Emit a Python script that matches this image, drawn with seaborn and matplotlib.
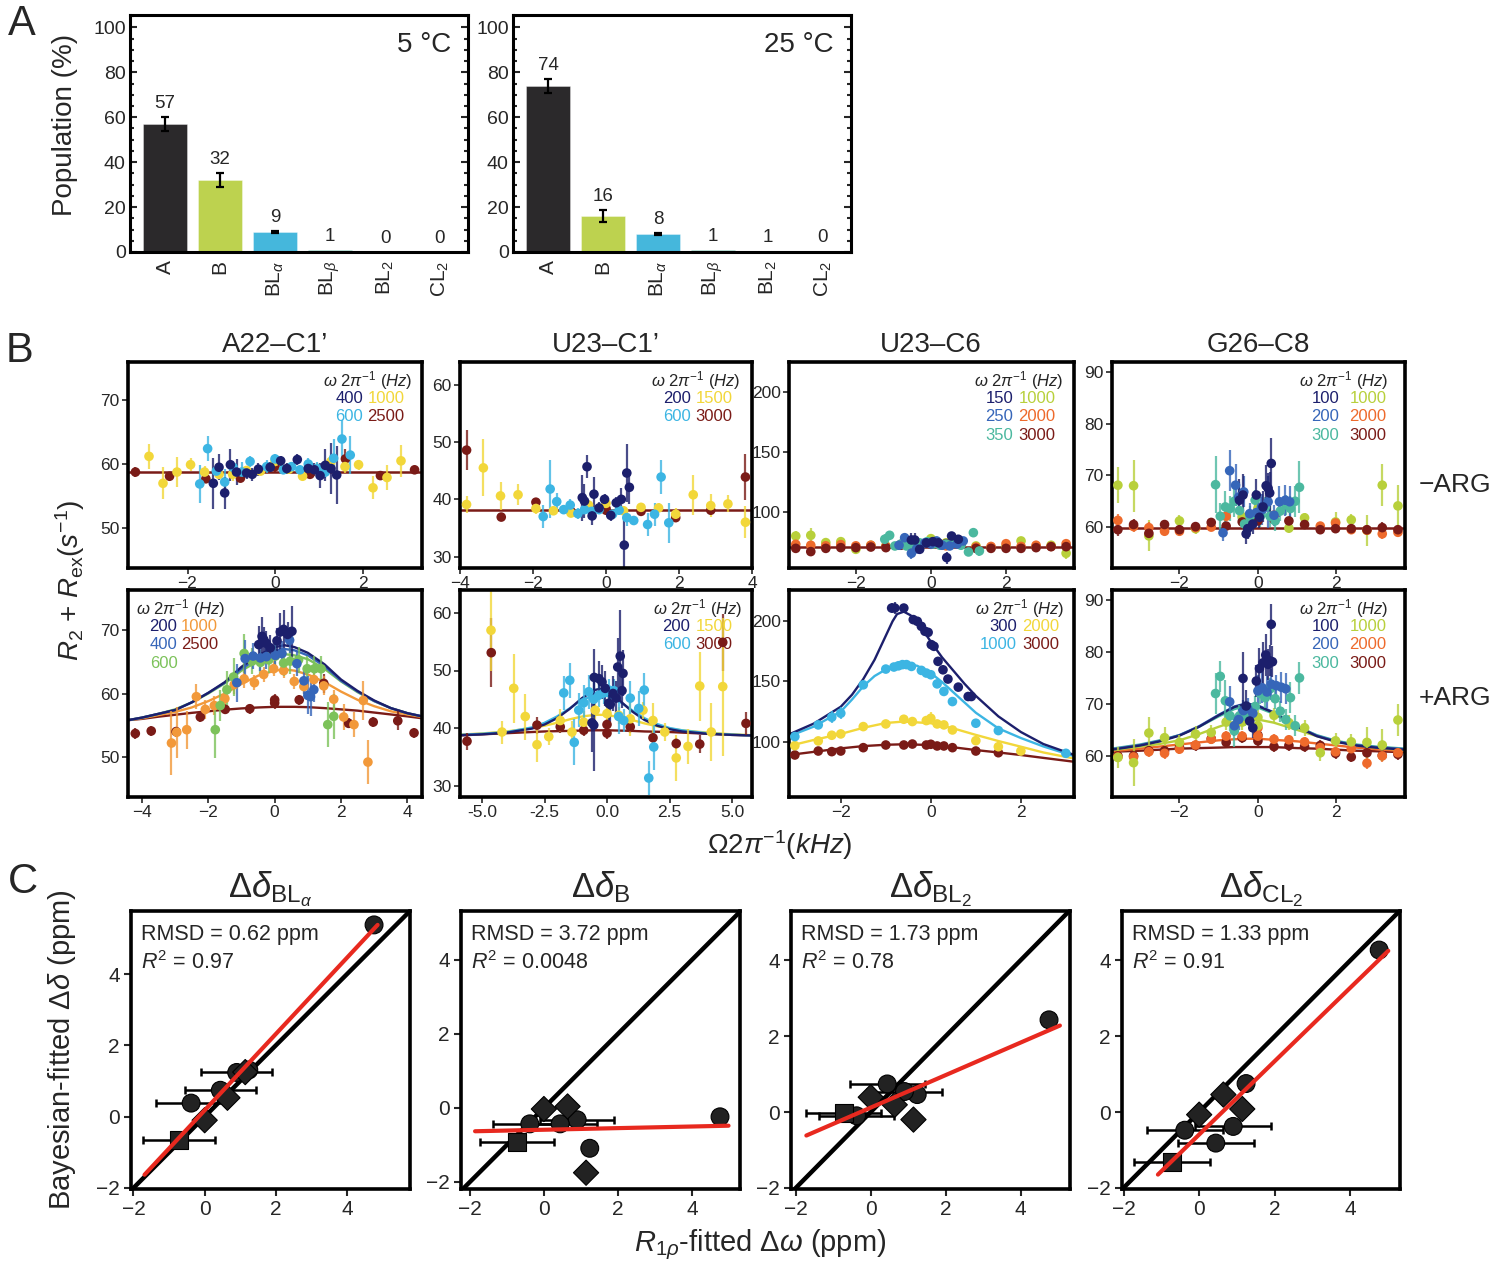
import numpy as np
import pandas as pd
import matplotlib
matplotlib.use('Agg')
import matplotlib.pyplot as plt
import seaborn as sns
from matplotlib.ticker import MultipleLocator, FixedLocator, FormatStrFormatter

# ---------------- DATA ----------------
# Panel A
POP_STATES = ['A', 'B', 'BLa', 'BLb', 'BL2', 'CL2']
POP_TICKLABELS = ['A', 'B', r'BL$_{\alpha}$', r'BL$_{\beta}$', r'BL$_{2}$', r'CL$_{2}$']
POP_5C = [57, 32, 9, 1, 0.2, 0.1]
POP_5C_ERR = [3.0, 3.0, 0.5, 0, 0, 0]
POP_25C = [74, 16, 8, 1, 0.6, 0.4]
POP_25C_ERR = [3.0, 2.5, 0.5, 0, 0, 0]

# Panel B (x kHz, y s^-1, err) ---- A22-C1' -ARG
A22M_2500 = [(-3.19, 58.75, 0.8), (-2.41, 58.1, 0.6), (-1.58, 57.7, 0.6), (-0.79, 57.8, 0.5), (0, 59.6, 0.8),
             (0.8, 58.4, 0.5), (1.61, 60.8, 1.5), (2.41, 58.2, 0.6), (3.19, 59.1, 0.5)]
A22M_1000 = [(-2.88, 61.2, 2), (-2.56, 57.0, 2.5), (-2.24, 58.75, 2.3), (-1.93, 59.9, 1), (-1.61, 58.75, 1),
             (-1.28, 58.4, 0.5), (-0.97, 58.4, 1), (-0.65, 59.0, 0.5), (-0.33, 58.9, 0.5), (0, 60.4, 0.8),
             (0.32, 59.2, 0.5), (0.63, 58.1, 0.5), (0.96, 59.1, 1), (1.28, 60.4, 1), (1.6, 59.6, 1),
             (1.91, 59.9, 0.8), (2.24, 56.3, 1.8), (2.56, 57.9, 2), (2.88, 60.5, 2.5)]
A22M_600 = [(-1.72, 56.9, 3), (-1.54, 62.4, 2), (-1.34, 58.9, 0.8), (-1.15, 57.2, 2), (-0.96, 59.5, 1),
            (-0.76, 58.75, 1.5), (-0.57, 60.4, 0.8), (-0.19, 59.6, 1), (0, 60.8, 0.8), (0.19, 59.1, 0.6),
            (0.38, 59.6, 0.6), (0.57, 59.1, 0.6), (0.76, 60.0, 1), (0.96, 59.3, 1), (1.15, 58.75, 1),
            (1.34, 60.9, 3), (1.53, 63.9, 3), (1.72, 61.4, 3)]
A22M_400 = [(-1.41, 57.0, 4), (-1.28, 59.5, 2), (-1.15, 55.5, 2.5), (-1.02, 59.9, 2.5), (-0.88, 58.75, 2),
            (-0.65, 58.6, 1), (-0.52, 58.4, 1), (-0.38, 59.2, 1), (-0.11, 59.5, 0.8), (0.13, 60.5, 0.8),
            (0.27, 59.3, 0.8), (0.51, 60.7, 0.8), (0.76, 59.3, 1), (0.9, 59.1, 1), (1.03, 58.2, 2),
            (1.15, 59.8, 2.5), (1.28, 59.3, 4), (1.41, 58.3, 4.5)]
A22M_FIT = 58.8

# U23-C1' -ARG
U23C1M_3000 = [(-3.82, 48.6, 3.5), (-2.87, 36.9, 0.6), (-1.92, 39.5, 0.8), (-0.96, 37.9, 0.6), (0, 38.1, 0.8),
               (0, 38.4, 0.6), (0.96, 37.9, 0.6), (1.91, 36.8, 0.6), (2.87, 38.1, 0.6), (3.82, 43.9, 4)]
U23C1M_1500 = [(-3.82, 39.1, 1.5), (-3.36, 45.5, 5), (-2.89, 40.6, 2.5), (-2.41, 40.8, 1.8), (-1.92, 38.4, 1),
               (-1.44, 38.0, 0.6), (-0.96, 37.6, 0.6), (-0.48, 39.0, 0.6), (0, 39.3, 0.6), (0.48, 38.0, 0.6),
               (0.96, 38.6, 0.8), (1.44, 38.5, 0.8), (1.91, 37.4, 1), (2.39, 40.8, 3.5), (2.87, 38.9, 2),
               (3.34, 39.2, 1.5), (3.82, 36.0, 2.8)]
U23C1M_600 = [(-1.72, 37.0, 2), (-1.53, 41.8, 5), (-1.35, 39.6, 1.5), (-1.16, 38.2, 0.8), (-0.98, 39.0, 1),
              (-0.77, 37.5, 1), (-0.59, 38.2, 0.8), (-0.39, 37.9, 0.8), (-0.19, 38.2, 0.8), (0.18, 37.4, 0.8),
              (0.36, 38.1, 0.8), (0.57, 36.8, 1.5), (0.76, 36.3, 0.8), (1.14, 35.6, 2), (1.33, 37.4, 2),
              (1.51, 43.9, 3), (1.72, 35.9, 3.5)]
U23C1M_200 = [(-0.65, 40.3, 4), (-0.59, 39.7, 3), (-0.52, 45.7, 2), (-0.38, 37.1, 1.5), (-0.33, 40.9, 3),
              (-0.19, 38.5, 1), (-0.04, 40.0, 1), (0.13, 37.2, 1), (0.28, 39.4, 1), (0.42, 40.0, 2),
              (0.5, 32.0, 5), (0.57, 44.6, 5), (0.64, 42.1, 3)]
U23C1M_FIT = 38.2

# U23-C6 -ARG
U23C6M_3000 = [(-3.6, 69.4, 1.5), (-3.2, 66.7, 1.5), (-2.8, 69.4, 1.5), (-2.4, 70, 1.5), (-2.0, 70, 1.5),
               (-1.6, 70.5, 1.5), (-1.2, 70, 1.5), (-0.8, 72, 1.5), (-0.4, 72.8, 1.5), (0, 72.8, 1.5),
               (0.4, 73.3, 1.5), (0.8, 72.8, 1.5), (1.2, 69.4, 1.5), (1.6, 69.4, 1.5), (2.0, 69.4, 1.5),
               (2.4, 69.4, 1.5), (2.8, 70, 1.5), (3.2, 70.8, 1.5), (3.6, 70.8, 1.5)]
U23C6M_2000 = [(-3.6, 72.8, 2), (-3.2, 72, 2), (-2.8, 71.5, 2), (-2.4, 72.5, 2), (-2.0, 71.5, 2), (-1.6, 72, 2),
               (-1.2, 71, 2), (-0.8, 72.8, 2), (-0.4, 72, 2), (0, 73, 2), (0.4, 71.5, 2), (0.8, 72.5, 2),
               (1.2, 70.5, 2), (1.6, 71, 2), (2.0, 73.3, 2), (2.4, 71, 2), (2.8, 72, 2), (3.2, 71, 2), (3.6, 73.3, 2)]
U23C6M_1000 = [(-3.6, 79.7, 4), (-3.2, 80.3, 6), (-2.8, 74.2, 2), (-2.4, 75, 2), (-2.0, 68.6, 2), (-1.6, 72, 2),
               (-1.2, 71.5, 2), (-0.8, 72.5, 2), (-0.4, 73, 2), (0, 77.5, 3), (0.4, 74, 2), (0.8, 73, 2),
               (1.2, 71.4, 2), (1.6, 70, 2), (2.0, 71, 2), (2.4, 75.6, 2), (2.8, 71, 2), (3.2, 72, 2), (3.6, 65.3, 5)]
U23C6M_350 = [(-1.23, 77, 4), (-1.1, 80.3, 3), (-0.96, 71.4, 2), (-0.8, 73, 2), (-0.65, 71.4, 2), (-0.5, 73, 2),
              (-0.3, 74, 2), (-0.1, 75, 2), (0.05, 73, 2), (0.24, 72, 2), (0.4, 73, 2), (0.6, 74, 2),
              (0.8, 72, 2), (1.0, 66.4, 3), (1.13, 82.5, 3), (1.29, 67.2, 4)]
U23C6M_250 = [(-0.85, 72, 2), (-0.7, 78.3, 3), (-0.52, 65.3, 5), (-0.38, 69, 3), (-0.16, 74, 2), (0, 73, 2),
              (0.15, 75.6, 2), (0.3, 72, 2), (0.5, 71.4, 2), (0.7, 73, 2), (0.86, 75.6, 2)]
U23C6M_150 = [(-0.52, 76.4, 6), (-0.43, 76.4, 6), (-0.3, 68.6, 3), (-0.12, 74, 2), (0.05, 75, 2), (0.2, 74, 2),
              (0.42, 61.7, 5), (0.55, 79.7, 3), (0.73, 77, 3)]
U23C6M_FIT = 70.5

# G26-C8 -ARG
G26M_3000 = [(-3.57, 59.5, 1.2), (-3.17, 60.5, 1), (-2.78, 58.8, 1), (-2.38, 60.5, 0.8), (-2.0, 59.5, 0.8),
             (-1.59, 60.1, 0.8), (-1.19, 60.9, 0.8), (-0.81, 60.2, 0.8), (-0.4, 61.0, 0.8), (0, 61.2, 0.8),
             (0.41, 61.5, 0.8), (0.79, 61.2, 0.8), (1.19, 60.5, 0.8), (1.59, 59.5, 0.8), (1.98, 59.7, 0.8),
             (2.38, 59.7, 0.8), (2.78, 59.5, 1), (3.17, 59.9, 1), (3.57, 59.5, 1)]
G26M_2000 = [(-3.57, 61.3, 1.2), (-3.17, 60.1, 1), (-2.78, 59.9, 1), (-2.38, 59.2, 0.8), (-2.0, 59.2, 0.8),
             (-1.59, 59.9, 0.8), (-1.19, 60.0, 0.8), (-0.81, 62.1, 1), (0, 62.7, 1), (0.41, 62.3, 1),
             (1.59, 60.2, 0.8), (1.98, 60.8, 0.8), (2.38, 59.5, 0.8), (2.78, 59.4, 1), (3.17, 58.7, 1),
             (3.57, 59.0, 1)]
G26M_1000 = [(-3.57, 68.1, 3.5), (-3.17, 68.0, 5), (-2.78, 58.3, 3), (-2.0, 61.2, 1.2), (-1.59, 59.7, 1),
             (-0.4, 62.0, 1), (0, 63.6, 1.5), (0.79, 59.8, 1), (1.19, 61.8, 1), (1.98, 61.0, 2),
             (2.38, 61.4, 1.2), (2.78, 59.4, 3), (3.17, 68.1, 4), (3.57, 64.1, 4)]
G26M_300 = [(-1.08, 68.2, 5.5), (-0.96, 62.1, 2.5), (-0.83, 63.9, 3), (-0.71, 63.6, 2.5), (-0.6, 65.0, 3),
            (-0.47, 63.2, 2), (-0.34, 60.6, 2), (-0.2, 62.0, 2), (-0.07, 65.2, 2), (0.06, 62.1, 2),
            (0.19, 63.9, 2), (0.31, 62.1, 2), (0.44, 61.2, 2), (0.57, 63.1, 2), (0.71, 64.3, 2),
            (0.83, 63.6, 2.5), (0.95, 65.0, 3), (1.06, 67.7, 5)]
G26M_200 = [(-0.89, 58.9, 1.5), (-0.72, 70.9, 4), (-0.57, 68.1, 4), (-0.49, 65.8, 3), (-0.36, 66.8, 3),
            (-0.21, 62.6, 2), (-0.04, 62.8, 2), (0.09, 63.9, 2), (0.11, 63.4, 3), (0.26, 64.9, 5),
            (0.41, 62.3, 2), (0.55, 64.9, 3), (0.7, 65.2, 3), (0.81, 64.9, 3)]
G26M_100 = [(-0.47, 65.2, 4), (-0.38, 66.2, 4), (-0.3, 58.7, 2), (-0.26, 59.7, 2), (-0.13, 60.6, 2),
            (-0.04, 66.2, 3), (0.04, 61.9, 2), (0.13, 63.9, 3), (0.21, 68.0, 4), (0.26, 67.5, 3),
            (0.3, 66.6, 4), (0.34, 72.3, 5)]
G26M_FIT = 59.8

# A22-C1' +ARG
A22P_2500 = [(-4.2, 53.7, 0.8), (-3.72, 54.1, 0.8), (-2.97, 54.0, 0.8), (-2.24, 56.3, 0.8), (-1.49, 57.5, 0.8),
             (-0.75, 57.6, 0.8), (0, 59.0, 1), (0, 58.5, 1), (0.74, 59.0, 0.8), (1.48, 61.6, 1.5),
             (2.23, 55.3, 0.8), (2.97, 55.5, 0.8), (3.71, 55.7, 1.5), (4.2, 53.8, 0.8)]
A22P_1000 = [(-3.11, 52.2, 5), (-2.95, 53.9, 4), (-2.65, 54.3, 3), (-2.36, 59.5, 2), (-2.09, 57.5, 1.5),
             (-1.82, 58.1, 1.5), (-1.5, 59.2, 2), (-1.22, 61.4, 1.5), (-0.92, 62.3, 1.5), (-0.61, 61.7, 1.2),
             (-0.33, 63.0, 1.2), (-0.03, 63.9, 1.2), (0.27, 63.6, 1.2), (0.59, 61.9, 1.2), (0.88, 61.1, 1.2),
             (1.18, 62.2, 1.5), (1.48, 61.2, 1.5), (1.78, 59.1, 1.5), (2.08, 56.3, 2), (2.39, 55.1, 2),
             (2.67, 58.9, 3), (2.81, 49.2, 3.5)]
A22P_600 = [(-1.79, 54.3, 4.5), (-1.64, 58.1, 2.5), (-1.44, 60.6, 3), (-1.24, 62.6, 3), (-0.92, 66.3, 3),
            (-0.68, 65.1, 2), (-0.43, 64.9, 2), (-0.18, 65.3, 2), (0.02, 65.9, 2), (0.27, 64.8, 2),
            (0.47, 65.1, 2), (0.72, 65.3, 2), (0.98, 63.9, 2), (1.2, 63.9, 2), (1.4, 63.9, 2),
            (1.6, 55.1, 3.5), (1.78, 56.4, 3.5)]
A22P_400 = [(-1.14, 61.7, 3), (-0.89, 65.5, 3), (-0.65, 65.9, 2), (-0.43, 65.6, 2), (-0.25, 65.8, 2),
            (0.02, 66.0, 2), (0.22, 66.3, 2), (0.45, 68.4, 2), (0.67, 64.7, 2), (0.88, 62.0, 2),
            (1.0, 59.7, 3), (1.08, 59.5, 3), (1.18, 60.6, 2)]
A22P_200 = [(-0.48, 67.7, 3), (-0.38, 69.0, 3), (-0.33, 68.5, 2), (-0.25, 67.9, 2), (-0.13, 67.2, 2),
            (0.07, 68.3, 2), (0.17, 69.7, 3), (0.27, 70.1, 3), (0.39, 69.3, 2), (0.52, 69.8, 4)]
A22P_GRID = [-4.42, -4, -3.5, -3, -2.5, -2, -1.5, -1, -0.5, 0, 0.3, 0.6, 1, 1.5, 2, 2.5, 3, 3.5, 4, 4.44]
A22P_FIT_200 = [55.8, 56.2, 56.8, 57.4, 58.6, 60.1, 61.8, 64.2, 66.0, 67.3, 67.6, 67.3, 66.4, 64.6, 62.2, 60.4, 58.9, 57.7, 56.9, 56.4]
A22P_FIT_400 = [55.8, 56.2, 56.8, 57.4, 58.6, 60.1, 61.7, 63.9, 65.6, 66.8, 67.0, 66.8, 66.0, 64.3, 62.0, 60.3, 58.8, 57.7, 56.9, 56.4]
A22P_FIT_600 = [55.8, 56.2, 56.8, 57.5, 58.6, 60.0, 61.6, 63.6, 65.1, 66.0, 66.2, 66.0, 65.4, 63.9, 61.9, 60.2, 58.8, 57.7, 56.9, 56.4]
A22P_FIT_1000 = [55.8, 56.1, 56.6, 57.1, 57.8, 58.8, 60.0, 61.5, 62.8, 63.6, 63.8, 63.6, 63.0, 61.8, 60.3, 59.0, 58.0, 57.2, 56.7, 56.3]
A22P_FIT_2500 = [55.8, 56.0, 56.35, 56.65, 56.95, 57.2, 57.45, 57.65, 57.8, 57.9, 57.9, 57.9, 57.85, 57.7, 57.5, 57.3, 57.0, 56.7, 56.4, 56.1]

# U23-C1' +ARG
U23C1P_3000 = [(-5.6, 37.7, 1.5), (-4.63, 53.1, 6), (-2.8, 40.5, 1.5), (-1.87, 40.2, 1), (-0.93, 39.6, 1),
               (0, 40.6, 1), (0, 39.1, 1), (0.93, 40.2, 1), (1.84, 38.3, 1), (2.77, 37.3, 1),
               (3.71, 37.2, 1.5), (4.63, 54.9, 5), (5.56, 40.8, 2)]
U23C1P_1500 = [(-4.64, 57.0, 7), (-4.2, 39.3, 2), (-3.73, 46.9, 6), (-3.27, 42.0, 4), (-2.8, 37.1, 3),
               (-2.33, 38.5, 1.5), (-1.87, 41.3, 2), (-1.4, 39.3, 2), (-0.93, 41.0, 2), (-0.47, 43.1, 1.5),
               (0, 42.5, 1.5), (0.47, 42.2, 1.5), (0.93, 41.6, 3), (1.44, 43.1, 1.5), (1.84, 41.3, 3),
               (2.31, 39.3, 1.5), (2.77, 34.8, 4), (3.24, 36.8, 3), (3.71, 47.3, 6), (4.17, 39.3, 5),
               (4.63, 47.2, 12)]
U23C1P_600 = [(-1.73, 46.1, 3), (-1.49, 48.3, 3), (-1.31, 37.5, 4), (-1.13, 43.1, 3), (-0.93, 44.4, 3),
              (-0.73, 46.3, 3), (-0.53, 45.0, 3), (-0.33, 45.7, 2), (-0.13, 46.1, 2), (0.07, 46.6, 2),
              (0.27, 46.5, 2), (0.47, 42.0, 3), (0.67, 41.3, 2), (0.93, 45.2, 3), (1.27, 43.4, 3),
              (1.49, 46.6, 3), (1.67, 31.3, 3), (1.87, 36.7, 4)]
U23C1P_200 = [(-0.6, 40.9, 5), (-0.53, 40.5, 8), (-0.51, 48.8, 5), (-0.33, 48.6, 3), (-0.2, 48.0, 3),
              (-0.07, 46.9, 3), (0.07, 44.3, 3), (0.13, 44.1, 3), (0.24, 46.0, 3), (0.36, 45.2, 3),
              (0.43, 50.6, 5), (0.53, 52.5, 8), (0.6, 46.5, 3), (0.64, 49.5, 4)]
U23C1P_GRID = [-5.88, -5, -4, -3, -2.5, -2, -1.5, -1, -0.5, -0.3, 0, 0.5, 1, 1.5, 2, 2.5, 3, 4, 5, 5.8]
U23C1P_FIT_200 = [38.75, 38.9, 39.2, 39.9, 40.6, 41.7, 43.3, 45.2, 46.6, 46.8, 46.4, 44.8, 42.9, 41.4, 40.4, 39.8, 39.4, 39.0, 38.8, 38.7]
U23C1P_FIT_600 = [38.8, 39.0, 39.3, 40.1, 40.9, 42.0, 43.4, 44.9, 45.7, 45.8, 45.6, 44.6, 43.1, 41.7, 40.7, 40.0, 39.6, 39.1, 38.85, 38.7]
U23C1P_FIT_1500 = [38.85, 39.05, 39.4, 40.0, 40.4, 40.9, 41.5, 42.0, 42.28, 42.3, 42.25, 41.9, 41.4, 40.8, 40.3, 39.9, 39.6, 39.2, 38.9, 38.75]
U23C1P_FIT_3000 = [38.7, 38.9, 39.1, 39.3, 39.4, 39.45, 39.5, 39.55, 39.6, 39.6, 39.6, 39.55, 39.5, 39.4, 39.35, 39.3, 39.2, 39.0, 38.8, 38.7]

# U23-C6 +ARG
U23C6P_3000 = [(-3.02, 88.9, 2), (-2.5, 92.2, 2), (-2.2, 91.7, 2), (-2.0, 92.2, 2), (-1.5, 95, 2), (-1.0, 97.2, 2),
               (-0.6, 97.2, 2), (-0.41, 98, 2), (-0.1, 97.2, 2), (0, 97.8, 3), (0.14, 96.4, 2), (0.29, 96.4, 2),
               (0.48, 95, 2), (1.0, 92.2, 2), (1.5, 90.8, 2)]
U23C6P_2000 = [(-3.02, 96.7, 2), (-2.5, 100.6, 2), (-2.2, 105.3, 2), (-2.0, 106.4, 2), (-1.5, 112.5, 2),
               (-1.0, 114.7, 2), (-0.6, 118.6, 2), (-0.41, 116.7, 2), (-0.1, 117.5, 2), (0, 119.4, 5),
               (0.14, 114.7, 2), (0.29, 113.9, 2), (0.48, 109.7, 2), (1.0, 100.8, 2), (1.5, 95.8, 2), (2.0, 92.2, 2)]
U23C6P_1000 = [(-3.02, 104.2, 4), (-2.5, 113.9, 3), (-2.2, 120.3, 5), (-2.0, 123.6, 5), (-1.5, 147.2, 2),
               (-1.0, 160.3, 2), (-0.82, 162, 2), (-0.72, 163, 2), (-0.63, 164, 2), (-0.54, 164, 2),
               (-0.43, 162.5, 2), (-0.21, 159.2, 2), (-0.1, 157, 2), (0, 155.6, 2), (0.14, 148, 2),
               (0.29, 141.7, 2), (0.48, 133.3, 2), (1.0, 115.3, 2), (1.5, 109.2, 2), (3.0, 90.3, 3)]
U23C6P_300 = [(-0.87, 211, 4), (-0.8, 211, 5), (-0.6, 211, 3), (-0.39, 201.4, 2), (-0.3, 200, 2),
              (-0.21, 195.8, 2), (-0.13, 191.7, 2), (-0.06, 190.8, 2), (0.01, 180.6, 2), (0.07, 179.2, 2),
              (0.16, 166.7, 2), (0.27, 159.7, 2), (0.38, 152, 2), (0.61, 145.3, 2), (0.83, 137.5, 3), (0.9, 137.5, 3)]
U23C6P_GRID_300 = [-3.15, -2.6, -2.0, -1.75, -1.5, -1.25, -1.0, -0.85, -0.75, -0.6, -0.45, -0.25, 0, 0.25,
                   0.5, 0.75, 1.0, 1.5, 2.0, 2.5, 3.18]
U23C6P_FIT_300 = [106, 115, 129, 139, 152, 168, 188, 200, 206, 208, 205, 197, 183, 170, 159, 148, 138, 121, 108,
                  98, 89]
U23C6P_GRID_1000 = [-3.15, -2.6, -2.0, -1.75, -1.5, -1.25, -1.0, -0.8, -0.6, -0.3, 0, 0.25, 0.5, 0.75, 1.0, 1.5,
                    2.0, 2.5, 3.18]
U23C6P_FIT_1000 = [104.5, 112.5, 125, 135, 146, 154.5, 160, 163.5, 164.8, 163, 157, 149.5, 141, 132.5, 124, 111,
                   103, 96, 88]
U23C6P_GRID_HI = [-3.15, -2.6, -2, -1.5, -1, -0.6, 0, 0.5, 1, 1.5, 2, 2.5, 3.18]
U23C6P_FIT_2000 = [96.4, 101.4, 106.4, 111.5, 115.5, 116.7, 115.3, 111, 105.6, 100.5, 95.8, 91, 86]
U23C6P_FIT_3000 = [88.9, 91.5, 94.4, 96.3, 97.4, 97.8, 97.2, 95.3, 93, 91, 88.9, 86.5, 83.3]

# G26-C8 +ARG
G26P_3000 = [(-3.57, 60.0, 1), (-3.17, 60.0, 1), (-2.78, 61.0, 1), (-2.38, 61.0, 1), (-2.0, 61.6, 1),
             (-1.59, 62.0, 1), (-1.19, 63.3, 1), (-0.81, 62.6, 1), (-0.4, 63.5, 1), (0, 64.0, 1), (0, 62.9, 1),
             (0.41, 61.8, 1), (0.79, 62.0, 1), (1.19, 61.8, 1), (1.59, 62.0, 1), (1.98, 60.5, 1),
             (2.38, 59.8, 1), (2.78, 60.6, 1), (3.17, 60.1, 1), (3.57, 60.3, 1)]
G26P_2000 = [(-3.57, 59.8, 1), (-3.17, 59.8, 1), (-2.78, 60.8, 1), (-2.38, 60.5, 1), (-2.0, 61.3, 1),
             (-1.59, 62.1, 1), (-1.19, 63.2, 1), (-0.81, 63.8, 1), (-0.4, 63.8, 1), (0, 65.4, 1.5), (0, 63.8, 1),
             (0.41, 63.2, 1), (0.79, 63.1, 1), (1.19, 62.7, 1), (1.59, 61.6, 1), (1.98, 60.8, 1),
             (2.38, 61.4, 1), (2.78, 58.6, 1.2), (3.17, 60.0, 1.2), (3.57, 60.6, 1)]
G26P_1000 = [(-3.57, 59.7, 2), (-3.17, 58.7, 4.5), (-2.78, 64.4, 3), (-2.38, 63.5, 2), (-2.0, 62.6, 1.5),
             (-1.59, 64.2, 1.5), (-1.19, 64.5, 1.5), (-0.81, 66.5, 1.5), (-0.4, 66.5, 1.5), (0, 65.8, 1.5),
             (0, 67.4, 1.5), (0.41, 67.8, 1.5), (0.79, 66.4, 1.5), (1.19, 65.4, 1.5), (1.59, 60.6, 1.5),
             (1.98, 62.9, 1.5), (2.38, 62.7, 1.5), (2.78, 62.6, 3), (3.17, 62.1, 3), (3.57, 66.9, 3)]
G26P_300 = [(-1.08, 72.0, 4), (-0.96, 75.3, 3), (-0.83, 70.6, 4), (-0.71, 67.7, 3), (-0.6, 64.8, 3),
            (-0.47, 67.7, 2), (-0.34, 67.7, 2), (-0.2, 67.7, 2), (-0.07, 69.5, 2), (0.06, 72.0, 2),
            (0.19, 71.2, 2), (0.31, 72.9, 2), (0.44, 71.0, 2), (0.57, 68.6, 2), (0.71, 67.0, 2),
            (0.83, 71.2, 3), (0.95, 65.8, 2), (1.06, 75.0, 3)]
G26P_200 = [(-0.72, 70.4, 3), (-0.6, 65.8, 2), (-0.49, 67.0, 2), (-0.37, 68.7, 2), (-0.26, 69.1, 2),
            (-0.13, 68.2, 2), (0, 72.5, 3), (0.11, 73.1, 3), (0.23, 72.3, 3), (0.34, 73.8, 3),
            (0.47, 73.5, 2), (0.6, 73.2, 3), (0.71, 72.9, 3)]
G26P_100 = [(-0.38, 74.9, 5), (-0.3, 69.6, 3), (-0.21, 66.7, 2), (-0.13, 65.4, 2), (-0.04, 74.4, 3),
            (0.04, 76.8, 4), (0.13, 77.9, 4), (0.2, 79.4, 4), (0.26, 77.6, 3), (0.3, 78.3, 3),
            (0.34, 85.3, 4), (0.37, 78.1, 3)]
G26P_GRID = [-3.72, -3, -2.5, -2, -1.5, -1, -0.6, -0.3, 0, 0.4, 1, 1.5, 2, 2.5, 3, 3.75]
G26P_FIT_100 = [61.2, 62.0, 62.8, 63.9, 65.6, 67.8, 69.4, 70.0, 69.6, 68.3, 65.6, 63.8, 62.7, 62.0, 61.6, 61.2]
G26P_FIT_200 = [61.3, 62.1, 62.9, 64.0, 65.7, 67.9, 69.5, 70.1, 69.7, 68.4, 65.7, 63.9, 62.8, 62.1, 61.7, 61.3]
G26P_FIT_300 = [61.4, 62.2, 63.0, 64.0, 65.6, 67.6, 69.0, 69.6, 69.3, 68.1, 65.6, 64.0, 62.9, 62.2, 61.8, 61.4]
G26P_FIT_1000 = [61.1, 61.8, 62.3, 63.0, 64.2, 65.6, 66.6, 67.0, 67.0, 66.4, 65.0, 63.8, 62.8, 62.1, 61.6, 61.1]
G26P_FIT_2000 = [60.9, 61.4, 61.8, 62.2, 62.6, 63.0, 63.2, 63.3, 63.3, 63.1, 62.8, 62.4, 62.0, 61.6, 61.3, 60.9]
G26P_FIT_3000 = [60.8, 61.0, 61.2, 61.4, 61.5, 61.6, 61.7, 61.7, 61.7, 61.7, 61.5, 61.4, 61.2, 61.0, 60.9, 60.7]

# Panel C (x = R1rho-fitted, shared)
C_CIRC_X = [4.76, 1.24, 0.9, 0.44, -0.38]
C_CIRC_XERR = [0, 0, 1.0, 1.0, 1.0]
C_DIAM_X = [0.0, 0.64, 1.14]
C_SQ_X = [-0.72]
C_SQ_XERR = [1.0]
BLA_CIRC_Y = [5.38, 1.31, 1.24, 0.74, 0.38]
BLA_DIAM_Y = [-0.1, 0.53, 1.25]
BLA_SQ_Y = [-0.66]
B_CIRC_Y = [-0.24, -1.09, -0.32, -0.43, -0.43]
B_DIAM_Y = [-0.03, 0.04, -1.75]
B_SQ_Y = [-0.91]
BL2_CIRC_Y = [2.43, 0.46, 0.54, 0.74, -0.1]
BL2_DIAM_Y = [0.39, 0.19, -0.2]
BL2_SQ_Y = [-0.03]
CL2_CIRC_Y = [4.27, 0.75, -0.38, -0.82, -0.48]
CL2_DIAM_Y = [-0.07, 0.46, 0.08]
CL2_SQ_Y = [-1.32]
FIT_BLA = ([-1.69, 4.86], [-1.63, 5.38])
FIT_B = ([-1.86, 4.99], [-0.63, -0.48])
FIT_BL2 = ([-1.72, 5.05], [-0.62, 2.28])
FIT_CL2 = ([-1.09, 5.0], [-1.65, 4.25])
C_RMSD = ['RMSD = 0.62 ppm', 'RMSD = 3.72 ppm', 'RMSD = 1.73 ppm', 'RMSD = 1.33 ppm']
C_R2 = ['0.97', '0.0048', '0.78', '0.91']

# ---------------- STYLE ----------------
sns.set_theme(style='ticks')
FONT = ['Liberation Sans', 'DejaVu Sans']
plt.rcParams['font.family'] = FONT
plt.rcParams['mathtext.fontset'] = 'custom'
plt.rcParams['mathtext.rm'] = 'Liberation Sans'
plt.rcParams['mathtext.it'] = 'Liberation Sans:italic'
plt.rcParams['mathtext.bf'] = 'Liberation Sans:bold'
plt.rcParams['axes.unicode_minus'] = True

NAVY = '#1c1f6c'; BLUE = '#3666b9'; SKY = '#3cb5e3'; TEAL = '#4bb89f'; YEL = '#f2d73a'
YGR = '#b8d03b'; ORG = '#ee6a2c'; ORG2 = '#f2993a'; GRN = '#7cc25a'; DRED = '#7a1b17'
POP_COLORS = ['#2b292b', '#bdd24f', '#45b7dc', '#3caa8b', '#a8cbe6', '#f3aaa8']

W, H = 1500, 1271
fig = plt.figure(figsize=(W / 100, H / 100), dpi=100)


def fax(l, t, r, b):
    return fig.add_axes([l / W, 1 - b / H, (r - l) / W, (b - t) / H])


def ftext(x, y, s, **kw):
    return fig.text(x / W, 1 - y / H, s, **kw)


# ---------------- PANEL A ----------------
for (l, r), vals, errs, lab in [((130, 468), POP_5C, POP_5C_ERR, '5 \u00b0C'),
                                 ((513, 851), POP_25C, POP_25C_ERR, '25 \u00b0C')]:
    ax = fax(l, 15, r, 252)
    sns.barplot(x=POP_STATES, y=vals, hue=POP_STATES, palette=POP_COLORS, legend=False, ax=ax,
                width=0.79, edgecolor=(1, 1, 1, 0.5), linewidth=0.5, saturation=1)
    idx = [i for i, e in enumerate(errs) if e > 0]
    ax.errorbar(idx, [vals[i] for i in idx], yerr=[errs[i] for i in idx], fmt='none',
                ecolor='black', elinewidth=1.6, capsize=3, capthick=1.6, zorder=5)
    for i, (v, e) in enumerate(zip(vals, errs)):
        ax.text(i, v + e + 2.2, f'{round(v)}', ha='center', va='bottom', fontsize=13.5)
    ax.set_xlim(-0.64, 5.51)
    ax.set_ylim(0, 105.5)
    ax.set_xticks(range(6))
    ax.set_xticklabels(POP_TICKLABELS, rotation=90, fontsize=15)
    ax.set_yticks([0, 20, 40, 60, 80, 100])
    ax.yaxis.set_minor_locator(MultipleLocator(5))
    ax.tick_params(axis='y', which='both', direction='in', left=True, right=True, labelsize=14, width=1.5, pad=3)
    ax.tick_params(axis='y', which='major', length=5)
    ax.tick_params(axis='y', which='minor', length=3)
    ax.tick_params(axis='x', length=0, pad=6)
    ax.set_xlabel('')
    ax.set_ylabel('')
    for s in ax.spines.values():
        s.set_linewidth(2.2)
        s.set_color('black')
    ax.text(0.95, 0.93, lab, transform=ax.transAxes, ha='right', va='top', fontsize=20)

ftext(65, 125, 'Population (%)', rotation=90, ha='center', va='center', fontsize=20)
ftext(8, 35, 'A', fontsize=30, va='baseline')

# ---------------- PANEL B ----------------
HEADER = r'$\omega\ 2\pi^{-1}\ (Hz)$'


def draw_b(box, xlim, ylim, xticks, yticks, series, fits=None, base=None, legend=None, xfmt=None):
    ax = fax(*box)
    if base is not None:
        ax.axhline(base, color=DRED, lw=1.8, zorder=1.5)
    if fits:
        for gx, gy, col in fits:
            sns.lineplot(x=gx, y=gy, color=col, lw=1.7, ax=ax, zorder=1.8, estimator=None, sort=False)
    for pts, col in series:
        df = pd.DataFrame(pts, columns=['x', 'y', 'e'])
        ax.errorbar(df.x, df.y, yerr=df.e, fmt='none', ecolor=col, elinewidth=1.6, alpha=0.8, zorder=2)
        sns.scatterplot(data=df, x='x', y='y', color=col, s=48, edgecolor='none', linewidth=0, ax=ax, zorder=3)
    ax.set_xlim(*xlim)
    ax.set_ylim(*ylim)
    ax.set_xticks(xticks)
    ax.set_yticks(yticks)
    if xfmt:
        ax.xaxis.set_major_formatter(FormatStrFormatter(xfmt))
    ax.set_xlabel('')
    ax.set_ylabel('')
    ax.tick_params(direction='out', length=4, width=1.2, labelsize=12.5, pad=2)
    for s in ax.spines.values():
        s.set_linewidth(2.6)
        s.set_color('black')
    if legend:
        rows, hx, hha, c1, c2 = legend
        ax.text(hx, 0.91, HEADER, transform=ax.transAxes, ha=hha, va='center', fontsize=12)
        for k, row in enumerate(rows):
            yy = 0.825 - 0.09 * k
            ax.text(c1, yy, row[0], color=row[1], transform=ax.transAxes, ha='right', va='center', fontsize=12)
            if len(row) > 2:
                ax.text(c2, yy, row[2], color=row[3], transform=ax.transAxes, ha='left', va='center', fontsize=12)
    return ax


R1 = (362, 568)
R2 = (590, 797)
C1x, C2x, C3x, C4x = (128, 422), (460, 752), (789, 1074), (1112, 1405)

draw_b((C1x[0], R1[0], C1x[1], R1[1]), (-3.36, 3.36), (43.8, 75.9), [-2, 0, 2], [50, 60, 70],
       [(A22M_2500, DRED), (A22M_1000, YEL), (A22M_600, SKY), (A22M_400, NAVY)], base=A22M_FIT,
       legend=([('400', NAVY, '1000', YEL), ('600', SKY, '2500', DRED)], 0.966, 'right', 0.80, 0.815))
draw_b((C2x[0], R1[0], C2x[1], R1[1]), (-4.0, 4.0), (28, 64), [-4, -2, 0, 2, 4], [30, 40, 50, 60],
       [(U23C1M_3000, DRED), (U23C1M_1500, YEL), (U23C1M_600, SKY), (U23C1M_200, NAVY)], base=U23C1M_FIT,
       legend=([('200', NAVY, '1500', YEL), ('600', SKY, '3000', DRED)], 0.96, 'right', 0.79, 0.806))
draw_b((C3x[0], R1[0], C3x[1], R1[1]), (-3.78, 3.81), (53, 225), [-2, 0, 2], [100, 150, 200],
       [(U23C6M_1000, YGR), (U23C6M_2000, ORG), (U23C6M_3000, DRED), (U23C6M_350, TEAL),
        (U23C6M_250, BLUE), (U23C6M_150, NAVY)], base=U23C6M_FIT,
       legend=([('150', NAVY, '1000', YGR), ('250', BLUE, '2000', ORG), ('350', TEAL, '3000', DRED)],
               0.963, 'right', 0.787, 0.805))
draw_b((C4x[0], R1[0], C4x[1], R1[1]), (-3.72, 3.75), (52.1, 91.9), [-2, 0, 2], [60, 70, 80, 90],
       [(G26M_1000, YGR), (G26M_2000, ORG), (G26M_3000, DRED), (G26M_300, TEAL),
        (G26M_200, BLUE), (G26M_100, NAVY)], base=G26M_FIT,
       legend=([('100', NAVY, '1000', YGR), ('200', BLUE, '2000', ORG), ('300', TEAL, '3000', DRED)],
               0.943, 'right', 0.776, 0.81))

draw_b((C1x[0], R2[0], C1x[1], R2[1]), (-4.42, 4.44), (43.7, 76.3), [-4, -2, 0, 2, 4], [50, 60, 70],
       [(A22P_2500, DRED), (A22P_1000, ORG2), (A22P_600, GRN), (A22P_400, BLUE), (A22P_200, NAVY)],
       fits=[(A22P_GRID, A22P_FIT_2500, DRED), (A22P_GRID, A22P_FIT_1000, ORG2), (A22P_GRID, A22P_FIT_600, GRN),
             (A22P_GRID, A22P_FIT_400, BLUE), (A22P_GRID, A22P_FIT_200, NAVY)],
       legend=([('200', NAVY, '1000', ORG2), ('400', BLUE, '2500', DRED), ('600', GRN)], 0.028, 'left', 0.168, 0.18))
draw_b((C2x[0], R2[0], C2x[1], R2[1]), (-5.88, 5.8), (28, 64), [-5, -2.5, 0, 2.5, 5], [30, 40, 50, 60],
       [(U23C1P_3000, DRED), (U23C1P_1500, YEL), (U23C1P_600, SKY), (U23C1P_200, NAVY)],
       fits=[(U23C1P_GRID, U23C1P_FIT_3000, DRED), (U23C1P_GRID, U23C1P_FIT_1500, YEL),
             (U23C1P_GRID, U23C1P_FIT_600, SKY), (U23C1P_GRID, U23C1P_FIT_200, NAVY)],
       legend=([('200', NAVY, '1500', YEL), ('600', SKY, '3000', DRED)], 0.966, 'right', 0.789, 0.806), xfmt='%.1f')
draw_b((C3x[0], R2[0], C3x[1], R2[1]), (-3.15, 3.18), (54, 226), [-2, 0, 2], [100, 150, 200],
       [(U23C6P_3000, DRED), (U23C6P_2000, YEL), (U23C6P_1000, SKY), (U23C6P_300, NAVY)],
       fits=[(U23C6P_GRID_HI, U23C6P_FIT_3000, DRED), (U23C6P_GRID_HI, U23C6P_FIT_2000, YEL),
             (U23C6P_GRID_1000, U23C6P_FIT_1000, SKY), (U23C6P_GRID_300, U23C6P_FIT_300, NAVY)],
       legend=([('300', NAVY, '2000', YEL), ('1000', SKY, '3000', DRED)], 0.965, 'right', 0.80, 0.818))
draw_b((C4x[0], R2[0], C4x[1], R2[1]), (-3.72, 3.75), (52.1, 91.9), [-2, 0, 2], [60, 70, 80, 90],
       [(G26P_3000, DRED), (G26P_2000, ORG), (G26P_1000, YGR), (G26P_300, TEAL), (G26P_200, BLUE), (G26P_100, NAVY)],
       fits=[(G26P_GRID, G26P_FIT_3000, DRED), (G26P_GRID, G26P_FIT_2000, ORG), (G26P_GRID, G26P_FIT_1000, YGR),
             (G26P_GRID, G26P_FIT_300, TEAL), (G26P_GRID, G26P_FIT_200, BLUE), (G26P_GRID, G26P_FIT_100, NAVY)],
       legend=([('100', NAVY, '1000', YGR), ('200', BLUE, '2000', ORG), ('300', TEAL, '3000', DRED)],
               0.943, 'right', 0.776, 0.81))

for cx, t in zip([275, 606, 931, 1258], ['A22\u2013C1\u2019', 'U23\u2013C1\u2019', 'U23\u2013C6', 'G26\u2013C8']):
    ftext(cx, 352, t, ha='center', va='baseline', fontsize=20)
ftext(1455, 492, '\u2212ARG', ha='center', va='baseline', fontsize=19)
ftext(1455, 705, '+ARG', ha='center', va='baseline', fontsize=19)
ftext(70, 580, r'$R_2$ + $R_{\mathrm{ex}}(s^{-1})$', rotation=90, ha='center', va='center', fontsize=20)
ftext(780, 845, r'$\Omega 2\pi^{-1}(kHz)$', ha='center', va='center', fontsize=20)
ftext(6, 362, 'B', fontsize=30, va='baseline')

# ---------------- PANEL C ----------------
C_BOXES = [(131, 410), (461, 740), (791, 1070), (1122, 1400)]
C_LIMS = [((-2.07, 5.77), (-2.03, 5.77)), ((-2.24, 5.3), (-2.19, 5.32)),
          ((-2.13, 5.32), (-2.03, 5.3)), ((-2.04, 5.31), (-2.03, 5.3))]
C_TITLES = [r'$\Delta\delta_{\mathrm{BL}_{\alpha}}$', r'$\Delta\delta_{\mathrm{B}}$',
            r'$\Delta\delta_{\mathrm{BL}_{2}}$', r'$\Delta\delta_{\mathrm{CL}_{2}}$']
C_YS = [(BLA_CIRC_Y, BLA_DIAM_Y, BLA_SQ_Y), (B_CIRC_Y, B_DIAM_Y, B_SQ_Y),
        (BL2_CIRC_Y, BL2_DIAM_Y, BL2_SQ_Y), (CL2_CIRC_Y, CL2_DIAM_Y, CL2_SQ_Y)]
C_FITS = [FIT_BLA, FIT_B, FIT_BL2, FIT_CL2]

for k in range(4):
    l, r = C_BOXES[k]
    ax = fax(l, 911, r, 1189)
    cy, dy, sy = C_YS[k]
    ax.axline((0, 0), (1, 1), color='black', lw=3.2, zorder=1)
    ex = [x for x, e in zip(C_CIRC_X, C_CIRC_XERR) if e > 0] + C_SQ_X
    ey = [y for y, e in zip(cy, C_CIRC_XERR) if e > 0] + sy
    ee = [e for e in C_CIRC_XERR if e > 0] + C_SQ_XERR
    ax.errorbar(ex, ey, xerr=ee, fmt='none', ecolor='black', elinewidth=1.8, capsize=3, capthick=1.8, zorder=2)
    fx, fy = C_FITS[k]
    sns.lineplot(x=fx, y=fy, color='#e8291f', lw=3.0, ax=ax, zorder=4, estimator=None, sort=False)
    df = pd.DataFrame({'x': C_CIRC_X + C_DIAM_X + C_SQ_X,
                       'y': cy + dy + sy,
                       'shape': ['circle'] * len(C_CIRC_X) + ['diamond'] * len(C_DIAM_X) + ['square'] * len(C_SQ_X)})
    sns.scatterplot(data=df, x='x', y='y', style='shape', markers={'circle': 'o', 'diamond': 'D', 'square': 's'},
                    color='#222222', s=165, edgecolor='black', linewidth=0.8, legend=False, ax=ax, zorder=3)
    ax.set_xlim(*C_LIMS[k][0])
    ax.set_ylim(*C_LIMS[k][1])
    ax.set_xticks([-2, 0, 2, 4])
    ax.set_yticks([-2, 0, 2, 4])
    ax.set_xlabel('')
    ax.set_ylabel('')
    ax.tick_params(direction='out', length=5, width=1.5, labelsize=15, pad=3)
    for s in ax.spines.values():
        s.set_linewidth(2.6)
        s.set_color('black')
    ax.text(0.036, 0.895, C_RMSD[k], transform=ax.transAxes, ha='left', va='baseline', fontsize=15.5)
    ax.text(0.036, 0.79, r'$R^2$ = ' + C_R2[k], transform=ax.transAxes, ha='left', va='baseline', fontsize=15.5)
    ftext((l + r) / 2, 897, C_TITLES[k], ha='center', va='baseline', fontsize=25)

ftext(62, 1050, r'Bayesian-fitted $\Delta\delta$ (ppm)', rotation=90, ha='center', va='center', fontsize=21)
ftext(760, 1245, r'$R_{1\rho}$-fitted $\Delta\omega$ (ppm)', ha='center', va='center', fontsize=21)
ftext(8, 893, 'C', fontsize=30, va='baseline')

fig.savefig('out.png', dpi=100)
